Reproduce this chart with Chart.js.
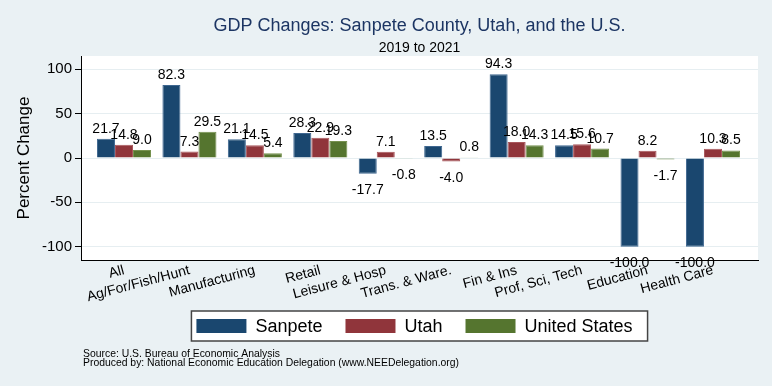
<!DOCTYPE html>
<html>
<head>
<meta charset="utf-8">
<title>GDP Changes: Sanpete County</title>
<script src="https://cdn.jsdelivr.net/npm/chart.js@4.4.1/dist/chart.umd.min.js"></script>
<style>
    html, body { margin: 0; padding: 0; background: #eaf1f4; }
    #wrap { width: 772px; height: 386px; position: relative; }
</style>
</head>
<body>
<div id="wrap"><canvas id="gdpChart"></canvas></div>
<script>
// Data
const categories = ["All", "Ag/For/Fish/Hunt", "Manufacturing", "Retail", "Leisure & Hosp",
    "Trans. & Ware.", "Fin & Ins", "Prof, Sci, Tech", "Education", "Health Care"];
const sanpete = [21.7, 82.3, 21.1, 28.3, -17.7, 13.5, 94.3, 14.5, -100.0, -100.0];
const utah = [14.8, 7.3, 14.5, 22.9, 7.1, -4.0, 18.0, 15.6, 8.2, 10.3];
const unitedStates = [9.0, 29.5, 5.4, 19.3, -0.8, 0.8, 14.3, 10.7, -1.7, 8.5];
const yTicks = [-100, -50, 0, 50, 100];

const FONT = "'Liberation Sans', Arial, Helvetica, sans-serif";
const BG = "#eaf1f4";

// kategoria i on lineaarisella akselilla kohdassa x = i + 1
function toPoints(arr) {
    return arr.map((v, i) => ({ x: i + 1, y: v }));
}

// Tausta, valkoinen piirtoalue, otsikot, alaviitteet ja selite
const frame = {
    id: "frame",
    beforeDraw(chart) {
        const ctx = chart.ctx;
        const a = chart.chartArea;
        ctx.save();
        ctx.fillStyle = BG;
        ctx.fillRect(0, 0, chart.width, chart.height);
        ctx.fillStyle = "#ffffff";
        ctx.fillRect(a.left, a.top, a.right - a.left, a.bottom - a.top);
        ctx.restore();
    },
    afterDraw(chart) {
        const ctx = chart.ctx;
        const a = chart.chartArea;
        const cx = (a.left + a.right) / 2;
        ctx.save();
        ctx.textAlign = "center";
        ctx.textBaseline = "alphabetic";
        ctx.fillStyle = "#1c3563";
        ctx.font = "18px " + FONT;
        ctx.fillText("GDP Changes: Sanpete County, Utah, and the U.S.", cx, 31);
        ctx.fillStyle = "#000000";
        ctx.font = "14px " + FONT;
        ctx.fillText("2019 to 2021", cx, 52);

        // alaviitteet
        ctx.textAlign = "left";
        ctx.font = "10.4px " + FONT;
        ctx.fillText("Source: U.S. Bureau of Economic Analysis", 83, 357);
        ctx.fillText("Produced by: National Economic Education Delegation (www.NEEDelegation.org)", 83, 366);

        // selite
        const items = chart.data.datasets;
        ctx.font = "18px " + FONT;
        const boxW = 50, boxH = 14, gapText = 9, gapItem = 23, padL = 5, padR = 15;
        let total = padL + padR;
        items.forEach((ds, i) => {
            total += boxW + gapText + ctx.measureText(ds.label).width;
            if (i < items.length - 1) total += gapItem;
        });
        const lx = cx - total / 2;
        const ly = 311, lh = 30;
        ctx.fillStyle = "#ffffff";
        ctx.fillRect(lx, ly, total, lh);
        ctx.strokeStyle = "#444444";
        ctx.lineWidth = 1.5;
        ctx.strokeRect(lx, ly, total, lh);
        let x = lx + padL;
        const midY = ly + lh / 2;
        ctx.textBaseline = "middle";
        items.forEach(ds => {
            ctx.fillStyle = ds.backgroundColor;
            ctx.fillRect(x, midY - boxH / 2, boxW, boxH);
            x += boxW + gapText;
            ctx.fillStyle = "#000000";
            ctx.fillText(ds.label, x, midY + 1);
            x += ctx.measureText(ds.label).width + gapItem;
        });
        ctx.restore();
    }
};

// Arvot pylväiden ylä- tai alapuolelle
const barLabels = {
    id: "barLabels",
    afterDatasetsDraw(chart) {
        const ctx = chart.ctx;
        ctx.save();
        ctx.font = "14px " + FONT;
        ctx.fillStyle = "#000000";
        ctx.textAlign = "center";
        ctx.textBaseline = "alphabetic";
        chart.data.datasets.forEach((ds, di) => {
            const meta = chart.getDatasetMeta(di);
            meta.data.forEach((bar, i) => {
                const v = ds.data[i].y;
                const y = v >= 0 ? bar.y - 6 : bar.y + 20;
                ctx.fillText(v.toFixed(1), bar.x, y);
            });
        });
        ctx.restore();
    }
};

new Chart(document.getElementById("gdpChart"), {
    type: "bar",
    data: {
        datasets: [
            { label: "Sanpete", data: toPoints(sanpete), backgroundColor: "#1a476f", borderColor: "#3f6790" },
            { label: "Utah", data: toPoints(utah), backgroundColor: "#90353b", borderColor: "#a9575c" },
            { label: "United States", data: toPoints(unitedStates), backgroundColor: "#55752f", borderColor: "#76914f" }
        ]
    },
    options: {
        responsive: true,
        maintainAspectRatio: false,
        animation: false,
        devicePixelRatio: 1,
        layout: { padding: { top: 56, right: 14, left: 0, bottom: 0 } },
        datasets: {
            bar: { categoryPercentage: 0.826, barPercentage: 1.0, borderWidth: 1 }
        },
        plugins: {
            legend: { display: false },
            tooltip: { enabled: false }
        },
        scales: {
            x: {
                type: "linear",
                min: 0.343,
                max: 10.688,
                offset: false,
                grid: { display: false, offset: false },
                border: { display: true, color: "#000000", width: 1 },
                afterBuildTicks(scale) {
                    scale.ticks = categories.map((c, i) => ({ value: i + 1 }));
                },
                afterFit(scale) { scale.height = 126; },
                ticks: {
                    autoSkip: false,
                    minRotation: 15,
                    maxRotation: 15,
                    padding: -6,
                    color: "#000000",
                    font: { size: 14, family: FONT },
                    callback: (v) => categories[Math.round(v) - 1] || ""
                }
            },
            y: {
                min: -115,
                max: 115,
                afterBuildTicks(scale) {
                    scale.ticks = yTicks.map(v => ({ value: v }));
                },
                afterFit(scale) { scale.width = 81; },
                grid: { color: "#e6eef1", lineWidth: 1, drawTicks: true, tickLength: 6, tickColor: "#000000" },
                border: { display: true, color: "#000000", width: 1 },
                ticks: { color: "#000000", padding: 3, font: { size: 15, family: FONT } },
                title: {
                    display: true,
                    text: "Percent Change",
                    color: "#000000",
                    font: { size: 17, family: FONT },
                    padding: { top: 14, bottom: 0 }
                }
            }
        }
    },
    plugins: [frame, barLabels]
});
</script>
</body>
</html>
